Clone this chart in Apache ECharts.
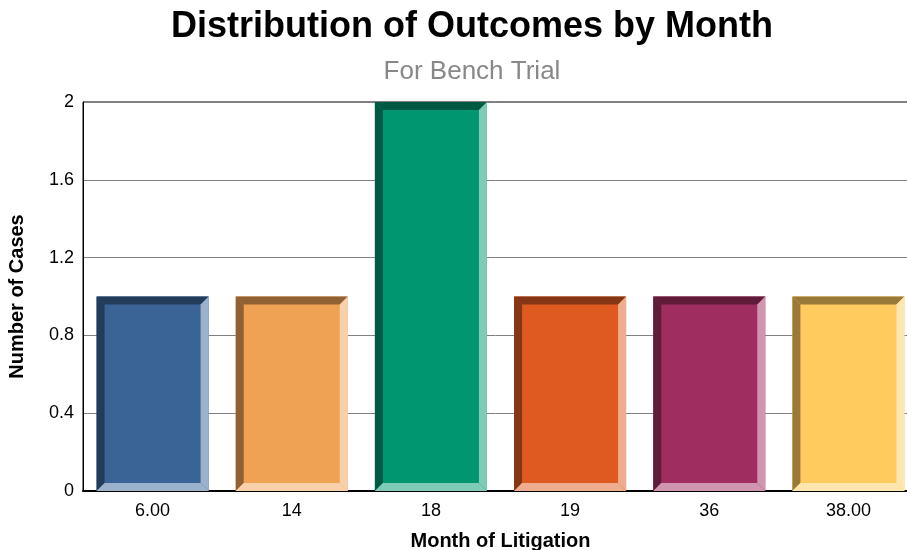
<!DOCTYPE html>
<html>
<head>
<meta charset="utf-8">
<script src="https://cdn.jsdelivr.net/npm/echarts@6/dist/echarts.min.js"></script>
<style>
html,body{margin:0;padding:0;background:#fff;}
#chart{width:907px;height:550px;}
</style>
</head>
<body>
<div id="chart"></div>
<script>
var categories = ['6.00', '14', '18', '19', '36', '38.00'];
var values = [1, 1, 2, 1, 1, 1];
var yTicks = [0, 0.4, 0.8, 1.2, 1.6, 2];
var mainColors = ['#3A6496', '#F0A254', '#009670', '#DE5A21', '#A02D5F', '#FFCA5E'];
var darkColors = ['#233C5A', '#906132', '#005A43', '#853614', '#601B39', '#997938'];
var lightColors = ['#9CB1CB', '#F8D1AA', '#80CBB8', '#EFAD90', '#D096AF', '#FFE5AF'];

var chart = echarts.init(document.getElementById('chart'), null, {renderer: 'canvas'});
var font = '"Liberation Sans", Arial, sans-serif';

function renderItem(params, api) {
  var idx = api.value(0);
  var top = api.coord([idx, api.value(1)]);
  var bot = api.coord([idx, 0]);
  var w = api.size([1, 0])[0] * 0.805;
  var x0 = top[0] - w / 2, x1 = top[0] + w / 2;
  var yT = top[1], yB = bot[1];
  var b = 8;
  var i = params.dataIndex;
  return {
    type: 'group',
    children: [
      {type: 'rect', shape: {x: x0, y: yT, width: w, height: yB - yT}, style: {fill: mainColors[i]}},
      {type: 'polygon', shape: {points: [[x0, yT], [x1, yT], [x1 - b, yT + b], [x0 + b, yT + b]]}, style: {fill: darkColors[i]}},
      {type: 'polygon', shape: {points: [[x0, yT], [x0 + b, yT + b], [x0 + b, yB - b], [x0, yB]]}, style: {fill: darkColors[i]}},
      {type: 'polygon', shape: {points: [[x1, yT], [x1, yB], [x1 - b, yB - b], [x1 - b, yT + b]]}, style: {fill: lightColors[i]}},
      {type: 'polygon', shape: {points: [[x0, yB], [x0 + b, yB - b], [x1 - b, yB - b], [x1, yB]]}, style: {fill: lightColors[i]}}
    ]
  };
}

chart.setOption({
  backgroundColor: '#fff',
  animation: false,
  title: {
    text: 'Distribution of Outcomes by Month',
    subtext: 'For Bench Trial',
    left: 467,
    textAlign: 'center',
    top: 4,
    itemGap: 14,
    textStyle: {fontFamily: font, fontSize: 36, fontWeight: 'bold', color: '#000'},
    subtextStyle: {fontFamily: font, fontSize: 26, color: '#888'}
  },
  grid: {left: 83, right: -11, top: 102, bottom: 59, show: true, borderColor: '#000', borderWidth: 1,
         backgroundColor: 'transparent', containLabel: false, outerBoundsMode: 'none'},
  xAxis: {
    type: 'category',
    data: categories,
    name: 'Month of Litigation',
    nameLocation: 'middle',
    nameGap: 40,
    nameTextStyle: {fontFamily: font, fontSize: 20, fontWeight: 'bold', color: '#000'},
    axisLine: {show: true, lineStyle: {color: '#000', width: 2}},
    axisTick: {show: false},
    axisLabel: {fontFamily: font, fontSize: 18, color: '#000', margin: 11},
    splitLine: {show: false}
  },
  yAxis: {
    type: 'value',
    min: 0,
    max: 2,
    interval: 0.4,
    name: 'Number of Cases',
    nameLocation: 'middle',
    nameGap: 56,
    nameTextStyle: {fontFamily: font, fontSize: 20, fontWeight: 'bold', color: '#000'},
    axisLine: {show: true, lineStyle: {color: '#000', width: 1}},
    axisTick: {show: false},
    axisLabel: {
      fontFamily: font, fontSize: 18, color: '#000', margin: 9,
      formatter: function (v) {
        var n = yTicks.reduce(function (a, t) { return Math.abs(t - v) < Math.abs(a - v) ? t : a; }, yTicks[0]);
        return String(n);
      }
    },
    splitLine: {show: true, lineStyle: {color: '#808080', width: 1}}
  },
  series: [{
    type: 'custom',
    renderItem: renderItem,
    encode: {x: 0, y: 1},
    data: values.map(function (v, i) { return [i, v]; }),
    z: 3
  }]
});
</script>
</body>
</html>
